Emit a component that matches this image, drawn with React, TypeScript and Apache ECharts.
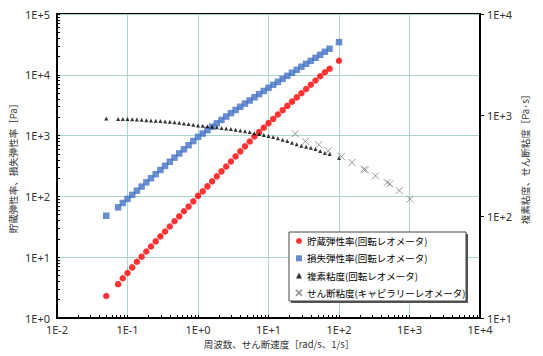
import React, { useEffect, useRef } from "react";
import * as echarts from "echarts";

// Angular frequency [rad/s] of the rotational rheometer sweep
const freq = [0.05, 0.0736, 0.0858, 0.1, 0.1166, 0.1359, 0.1585, 0.1848, 0.2154, 0.2512, 0.2929, 0.3415, 0.3981, 0.4642, 0.5412, 0.631, 0.7356, 0.8577, 1, 1.166, 1.359, 1.585, 1.848, 2.154, 2.512, 2.929, 3.415, 3.981, 4.642, 5.412, 6.31, 7.356, 8.577, 10, 11.66, 13.59, 15.85, 18.48, 21.54, 25.12, 29.29, 34.15, 39.81, 46.42, 54.12, 63.1, 73.56, 100];
// Storage modulus G' [Pa]
const storage = [2.3, 3.6, 4.5, 5.5, 6.8, 8.4, 10.2, 12.4, 15.0, 18.2, 22, 26.5, 32, 39, 47, 57, 68, 83, 102, 121, 146, 177, 214, 258, 310, 375, 455, 550, 665, 800, 965, 1140, 1350, 1600, 1880, 2220, 2620, 3080, 3620, 4250, 4980, 5850, 6850, 8050, 9450, 11000, 12600, 17000];
// Loss modulus G'' [Pa]
const loss = [48, 66, 78, 91, 106, 124, 145, 170, 199, 232, 272, 318, 372, 435, 508, 594, 695, 813, 951, 1080, 1230, 1400, 1590, 1810, 2060, 2340, 2640, 2980, 3360, 3780, 4270, 4810, 5420, 6110, 6840, 7660, 8590, 9620, 10790, 12080, 13550, 15170, 16980, 19050, 21330, 23930, 26790, 34400];
// Complex viscosity [Pa·s]
const complexVisc = [930, 922, 920, 918, 915, 910, 903, 895, 889, 884, 878, 870, 862, 854, 843, 832, 820, 806, 795, 787, 779, 771, 762, 750, 741, 731, 720, 709, 698, 684, 667, 654, 640, 625, 610, 595, 575, 557, 537, 518, 502, 490, 478, 465, 445, 425, 415, 380];
// Capillary rheometer: shear rate [1/s] and shear viscosity [Pa·s]
const shearRate = [24, 33.4, 51.5, 70.7, 108, 153, 224, 237, 329, 482, 525, 716, 1016];
const shearVisc = [659, 553, 513, 447, 393, 343, 293, 290, 253, 217, 211, 181, 149];

const seriesNames = [
  "貯蔵弾性率(回転レオメータ)",
  "損失弾性率(回転レオメータ)",
  "複素粘度(回転レオメータ)",
  "せん断粘度(キャピラリーレオメータ)",
];

const xRange = [0.01, 10000];
const yLeftRange = [1, 100000];
const yRightRange = [10, 10000];

function logTicks(min: number, max: number) {
  const out: number[] = [];
  for (let p = min; p < max; p *= 10) {
    for (let m = 1; m <= 9; m++) out.push(+(m * p).toPrecision(6));
  }
  out.push(max);
  return out;
}

const fmt = (v: number) => {
  const e = Math.round(Math.log10(v));
  return "1E" + (e >= 0 ? "+" : "-") + Math.abs(e);
};

const LABEL_FONT = "'Noto Sans', sans-serif";
const JP_FONT = "'Noto Sans CJK JP', sans-serif";
const GRID_COLOR = "#a8d8c8";

export default function App() {
  const ref = useRef<HTMLDivElement>(null);
  useEffect(() => {
    if (!ref.current) return;
    const chart = echarts.init(ref.current, undefined, { renderer: "svg" });
    const labelStyle = { fontSize: 11, lineHeight: 12, color: "#333", fontFamily: LABEL_FONT, formatter: fmt };
    chart.setOption({
      animation: false,
      backgroundColor: "#fff",
      grid: { left: 57, right: 63, top: 14, bottom: 38, show: true, borderColor: "#000", borderWidth: 2, backgroundColor: "transparent" },
      xAxis: [
        {
          type: "log", logBase: 10, min: xRange[0], max: xRange[1], position: "bottom",
          axisLine: { lineStyle: { color: "#000", width: 2 } },
          axisTick: { show: false },
          axisLabel: { ...labelStyle, margin: 5 },
          splitLine: { show: true, lineStyle: { color: GRID_COLOR, width: 1 } },
        },
        {
          type: "log", logBase: 10, min: xRange[0], max: xRange[1], position: "bottom",
          axisLine: { show: false },
          axisLabel: { show: false },
          splitLine: { show: false },
          axisTick: { show: true, inside: true, length: 3, customValues: logTicks(xRange[0], xRange[1]), lineStyle: { color: "#000", width: 1 } },
        },
      ],
      yAxis: [
        {
          type: "log", logBase: 10, min: yLeftRange[0], max: yLeftRange[1], position: "left",
          axisLine: { show: true, lineStyle: { color: "#000", width: 2 } },
          axisTick: { show: false },
          axisLabel: { ...labelStyle, margin: 7 },
          splitLine: { show: true, lineStyle: { color: GRID_COLOR, width: 1 } },
        },
        {
          type: "log", logBase: 10, min: yRightRange[0], max: yRightRange[1], position: "right",
          axisLine: { show: true, lineStyle: { color: "#000", width: 2 } },
          axisTick: { show: true, inside: false, length: 4, lineStyle: { color: "#000" } },
          axisLabel: { ...labelStyle, margin: 7 },
          splitLine: { show: false },
        },
        {
          type: "log", logBase: 10, min: yLeftRange[0], max: yLeftRange[1], position: "left",
          axisLine: { show: false },
          axisLabel: { show: false },
          splitLine: { show: false },
          axisTick: { show: true, inside: true, length: 3, customValues: logTicks(yLeftRange[0], yLeftRange[1]), lineStyle: { color: "#000", width: 1 } },
        },
      ],
      legend: {
        orient: "vertical",
        left: 295,
        top: 234,
        padding: 0,
        itemWidth: 6,
        itemHeight: 6,
        itemGap: 3.3,
        z: 20,
        data: seriesNames,
        textStyle: { fontSize: 9.5, lineHeight: 14, color: "#000", fontFamily: JP_FONT },
      },
      graphic: [
        { type: "rect", z: 15, shape: { x: 291, y: 234, width: 177, height: 69 }, style: { fill: "#555" } },
        { type: "rect", z: 16, shape: { x: 289, y: 232, width: 177, height: 69 }, style: { fill: "#fff", stroke: "#444", lineWidth: 1 } },
        { type: "text", z: 16, x: 13, y: 166, rotation: Math.PI / 2, style: { text: "貯蔵弾性率、損失弾性率［Pa］", fontSize: 9.5, fill: "#333", fontFamily: JP_FONT, align: "center", verticalAlign: "middle" } },
        { type: "text", z: 16, x: 525, y: 157, rotation: Math.PI / 2, style: { text: "複素粘度、せん断粘度［Pa·s］", fontSize: 9.5, fill: "#333", fontFamily: JP_FONT, align: "center", verticalAlign: "middle" } },
        { type: "text", z: 16, x: 279, y: 344, style: { text: "周波数、せん断速度［rad/s、1/s］", fontSize: 9.5, lineHeight: 11, fill: "#333", fontFamily: JP_FONT, align: "center", verticalAlign: "middle" } },
      ],
      series: [
        {
          name: seriesNames[0], type: "scatter", xAxisIndex: 0, yAxisIndex: 0,
          symbol: "circle", symbolSize: 6.5,
          itemStyle: { color: "#ff0000" },
          data: freq.map((f, i) => [f, storage[i]]),
        },
        {
          name: seriesNames[1], type: "scatter", xAxisIndex: 0, yAxisIndex: 0,
          symbol: "rect", symbolSize: 6.5,
          itemStyle: { color: "#4472c4" },
          data: freq.map((f, i) => [f, loss[i]]),
        },
        {
          name: seriesNames[2], type: "scatter", xAxisIndex: 0, yAxisIndex: 1,
          symbol: "triangle", symbolSize: 4,
          itemStyle: { color: "#000" },
          data: freq.map((f, i) => [f, complexVisc[i]]),
        },
        {
          name: seriesNames[3], type: "scatter", xAxisIndex: 0, yAxisIndex: 1,
          symbol: "path://M0,0L10,10M10,0L0,10", symbolSize: 7,
          itemStyle: { color: "rgba(0,0,0,0)", borderColor: "#808080", borderWidth: 1 },
          data: shearRate.map((s, i) => [s, shearVisc[i]]),
        },
      ],
    });
    return () => chart.dispose();
  }, []);
  return <div ref={ref} style={{ position: "fixed", left: 0, top: 0, width: 543, height: 356 }} />;
}
